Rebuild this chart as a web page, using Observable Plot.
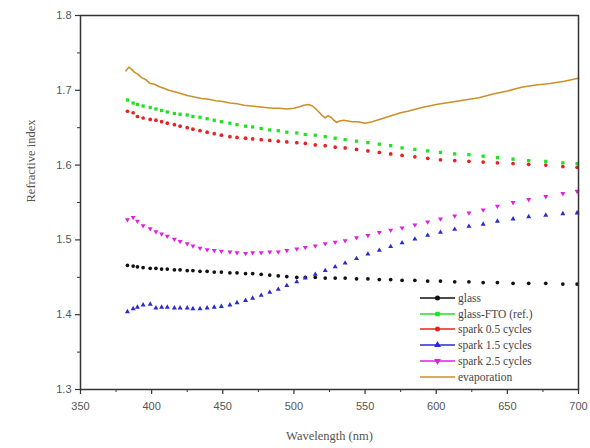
<!DOCTYPE html>
<html>
<head>
<meta charset="utf-8">
<script src="https://cdn.jsdelivr.net/npm/d3@7"></script>
<script src="https://cdn.jsdelivr.net/npm/@observablehq/plot@0.6"></script>
<style>
  body { margin: 0; background: #fff; }
  #wrap { position: relative; width: 590px; height: 448px; }
  #legend { position: absolute; left: 419px; top: 290px; font-family: "Liberation Serif", serif; font-size: 11.5px; color: #444; }
  .row { height: 15.8px; display: flex; align-items: center; white-space: nowrap; }
  .row svg { margin-right: 2px; }
</style>
</head>
<body>
<div id="wrap"></div>
<script>
// Wavelength sampling (nm) for the dotted series
const wavelength = [383,387,390,394,399,403,407,411,416,420,425,429,434,439,444,449,455,460,466,471,477,483,489,495,502,508,515,522,529,536,544,552,560,568,576,585,594,603,613,623,633,643,654,665,677,689,699];

const glass = [1.466,1.465,1.464,1.463,1.462,1.462,1.461,1.461,1.460,1.460,1.459,1.459,1.458,1.458,1.457,1.457,1.456,1.456,1.455,1.455,1.454,1.453,1.452,1.451,1.450,1.450,1.450,1.449,1.449,1.449,1.448,1.448,1.447,1.447,1.446,1.446,1.445,1.445,1.444,1.444,1.443,1.443,1.442,1.442,1.442,1.441,1.441];

const glassFTO = [1.687,1.683,1.681,1.679,1.677,1.675,1.673,1.671,1.669,1.668,1.667,1.665,1.664,1.662,1.660,1.658,1.656,1.654,1.652,1.651,1.649,1.647,1.646,1.644,1.643,1.641,1.640,1.638,1.636,1.634,1.632,1.630,1.628,1.626,1.623,1.621,1.619,1.617,1.615,1.614,1.612,1.610,1.608,1.606,1.605,1.603,1.602];

const spark05 = [1.672,1.670,1.665,1.663,1.661,1.660,1.658,1.656,1.654,1.652,1.650,1.648,1.646,1.644,1.642,1.640,1.638,1.637,1.636,1.635,1.634,1.633,1.632,1.631,1.630,1.629,1.627,1.626,1.624,1.623,1.621,1.619,1.617,1.615,1.613,1.611,1.609,1.607,1.606,1.605,1.604,1.603,1.602,1.601,1.600,1.598,1.597];

const spark15 = [1.404,1.408,1.410,1.413,1.414,1.409,1.410,1.410,1.409,1.409,1.409,1.408,1.408,1.409,1.410,1.411,1.413,1.416,1.419,1.422,1.426,1.430,1.434,1.439,1.444,1.449,1.454,1.459,1.464,1.469,1.475,1.481,1.486,1.491,1.496,1.501,1.506,1.510,1.514,1.518,1.521,1.525,1.528,1.531,1.533,1.535,1.536];

const spark25 = [1.527,1.530,1.525,1.519,1.515,1.511,1.508,1.505,1.501,1.498,1.495,1.492,1.489,1.487,1.486,1.485,1.484,1.483,1.482,1.483,1.483,1.484,1.484,1.486,1.488,1.490,1.492,1.495,1.497,1.499,1.503,1.506,1.510,1.513,1.516,1.520,1.524,1.528,1.532,1.536,1.540,1.545,1.550,1.554,1.558,1.562,1.565];

// Evaporation (continuous line)
const evapWavelength = [382,384,386,388,390,393,396,399,402,405,408,412,416,420,425,430,435,440,445,450,455,460,465,470,475,480,485,490,495,500,504,507,510,513,516,518,520,522,524,526,528,530,532,535,538,541,545,550,555,560,565,570,575,580,590,600,610,620,630,640,650,660,670,680,690,700];
const evapIndex = [1.726,1.731,1.728,1.724,1.722,1.717,1.714,1.709,1.708,1.705,1.703,1.700,1.698,1.696,1.693,1.691,1.689,1.688,1.686,1.685,1.683,1.682,1.680,1.679,1.678,1.677,1.676,1.676,1.675,1.676,1.678,1.680,1.681,1.679,1.674,1.670,1.666,1.663,1.666,1.664,1.660,1.657,1.659,1.660,1.659,1.658,1.658,1.656,1.658,1.661,1.664,1.667,1.670,1.672,1.677,1.681,1.684,1.687,1.690,1.695,1.699,1.704,1.707,1.709,1.712,1.716];

const seriesNames = ["glass", "glass-FTO (ref.)", "spark 0.5 cycles", "spark 1.5 cycles", "spark 2.5 cycles", "evaporation"];
const seriesColors = ["#111111", "#22e022", "#e82020", "#2a2ad0", "#e020e0", "#c8922a"];

const xTicks = [350,400,450,500,550,600,650,700];
const xMinor = [375,425,475,525,575,625,675];
const yTicks = [1.3,1.4,1.5,1.6,1.7,1.8];
const yMinor = [1.35,1.45,1.55,1.65,1.75];

const triDown = {
  draw(ctx, size) {
    const y = -Math.sqrt(size / (Math.sqrt(3) * 3));
    const s = Math.sqrt(3);
    ctx.moveTo(0, -y * 2);
    ctx.lineTo(-s * y, y);
    ctx.lineTo(s * y, y);
    ctx.closePath();
  }
};
const symbols = [d3.symbolCircle, d3.symbolSquare, d3.symbolCircle, d3.symbolTriangle, triDown];
const dotSeries = [glass, glassFTO, spark05, spark15, spark25];

const rows = [];
dotSeries.forEach((vals, s) => {
  vals.forEach((v, i) => rows.push({wl: wavelength[i], n: v, s}));
});
const evap = evapWavelength.map((w, i) => ({wl: w, n: evapIndex[i]}));

const tickFont = {fontFamily: "Liberation Sans, Arial, sans-serif", fontSize: 11};

const marks = [
  Plot.line(evap, {x: "wl", y: "n", stroke: seriesColors[5], strokeWidth: 1.6}),
  ...dotSeries.map((vals, s) =>
    Plot.dot(rows.filter(d => d.s === s), {x: "wl", y: "n", r: 1.85, symbol: symbols[s], fill: seriesColors[s], stroke: null})
  ),
  Plot.frame({stroke: "#333", strokeWidth: 1.5}),
  Plot.axisX({ticks: xTicks, tickSize: 5, tickPadding: 8, stroke: "#333", strokeWidth: 1.2, fill: "#555", tickFormat: d => String(d), label: null, ...tickFont}),
  Plot.axisX({ticks: xMinor, tickSize: 3, tickFormat: null, text: null, stroke: "#333", label: null}),
  Plot.axisY({ticks: yTicks, tickSize: 5, tickPadding: 4, stroke: "#333", strokeWidth: 1.2, fill: "#555", tickFormat: d3.format(".1f"), label: null, ...tickFont}),
  Plot.axisY({ticks: yMinor, tickSize: 3, tickFormat: null, text: null, stroke: "#333", label: null})
];

const chart = Plot.plot({
  width: 590,
  height: 448,
  marginLeft: 80,
  marginRight: 12,
  marginTop: 15,
  marginBottom: 59,
  x: {domain: [350, 700]},
  y: {domain: [1.3, 1.8]},
  style: {background: "transparent", overflow: "visible"},
  marks: [
    ...marks,
    Plot.text(["Wavelength (nm)"], {frameAnchor: "bottom", dy: 50, text: d => d, fontFamily: "Liberation Serif, serif", fontSize: 12.5, fill: "#555"}),
    Plot.text(["Refractive index"], {frameAnchor: "left", dx: -50, rotate: -90, text: d => d, fontFamily: "Liberation Serif, serif", fontSize: 12.5, fill: "#555"})
  ]
});

const wrap = document.getElementById("wrap");
wrap.appendChild(chart);

// Legend
const legend = document.createElement("div");
legend.id = "legend";
seriesNames.forEach((name, i) => {
  const row = document.createElement("div");
  row.className = "row";
  const svg = d3.create("svg").attr("width", 37).attr("height", 10);
  svg.append("line").attr("x1", 1).attr("x2", 36).attr("y1", 5).attr("y2", 5)
    .attr("stroke", seriesColors[i]).attr("stroke-width", 1.5);
  if (i < 5) {
    svg.append("path").attr("transform", "translate(18.5,5)")
      .attr("d", d3.symbol(symbols[i], 20)()).attr("fill", seriesColors[i]);
  }
  row.appendChild(svg.node());
  const span = document.createElement("span");
  span.textContent = name;
  row.appendChild(span);
  legend.appendChild(row);
});
wrap.appendChild(legend);
</script>
</body>
</html>
